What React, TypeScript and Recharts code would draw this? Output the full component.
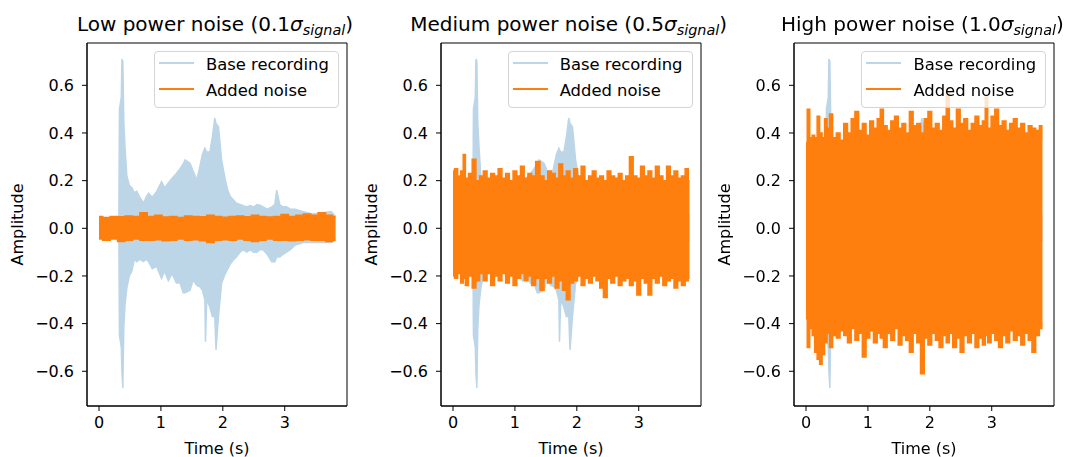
import { ComposedChart, Area, XAxis, YAxis, Legend, ReferenceArea } from 'recharts'

// base recording envelope (same clip in every panel)
const baseTimes = [0, 0.1, 0.2, 0.32, 0.33, 0.36, 0.37, 0.385, 0.4, 0.42, 0.45, 0.49, 0.53, 0.57, 0.61, 0.66, 0.72, 0.76, 0.8, 0.86, 0.93, 1.01, 1.06, 1.12, 1.18, 1.25, 1.31, 1.36, 1.39, 1.47, 1.52, 1.58, 1.63, 1.67, 1.71, 1.72, 1.74, 1.79, 1.83, 1.87, 1.89, 1.93, 1.98, 2.04, 2.08, 2.12, 2.17, 2.22, 2.28, 2.33, 2.39, 2.44, 2.5, 2.55, 2.6, 2.65, 2.72, 2.79, 2.84, 2.87, 2.92, 2.97, 3.03, 3.09, 3.17, 3.3, 3.45, 3.62, 3.75, 3.82]
const baseHigh = [0.02, 0.02, 0.02, 0.02, 0.5, 0.55, 0.71, 0.7, 0.45, 0.34, 0.22, 0.18, 0.17, 0.15, 0.155, 0.13, 0.106, 0.13, 0.147, 0.13, 0.154, 0.196, 0.17, 0.19, 0.21, 0.23, 0.25, 0.27, 0.287, 0.273, 0.24, 0.203, 0.26, 0.31, 0.336, 0.33, 0.32, 0.32, 0.38, 0.462, 0.44, 0.426, 0.287, 0.203, 0.16, 0.133, 0.12, 0.105, 0.1, 0.095, 0.09, 0.095, 0.09, 0.1, 0.097, 0.09, 0.08, 0.09, 0.1, 0.16, 0.1, 0.09, 0.09, 0.08, 0.08, 0.07, 0.06, 0.065, 0.07, 0.05]
const baseLow = [-0.02, -0.02, -0.02, -0.02, -0.45, -0.5, -0.6, -0.67, -0.42, -0.32, -0.25, -0.2, -0.18, -0.13, -0.14, -0.13, -0.14, -0.13, -0.14, -0.17, -0.16, -0.21, -0.18, -0.22, -0.19, -0.23, -0.23, -0.27, -0.27, -0.26, -0.217, -0.24, -0.245, -0.26, -0.3, -0.476, -0.3, -0.33, -0.37, -0.37, -0.51, -0.37, -0.23, -0.19, -0.17, -0.15, -0.133, -0.12, -0.1, -0.09, -0.1, -0.09, -0.1, -0.1, -0.09, -0.09, -0.11, -0.14, -0.14, -0.12, -0.12, -0.11, -0.1, -0.09, -0.07, -0.06, -0.06, -0.06, -0.06, -0.05]

// 0.1 sigma noise
const lowTimes = [0, 0.12, 0.24, 0.36, 0.48, 0.6, 0.72, 0.84, 0.96, 1.08, 1.2, 1.32, 1.44, 1.56, 1.68, 1.8, 1.92, 2.04, 2.16, 2.28, 2.4, 2.52, 2.64, 2.76, 2.88, 3.0, 3.12, 3.24, 3.36, 3.48, 3.6, 3.72, 3.82]
const lowHigh = [0.05, 0.045, 0.05, 0.048, 0.052, 0.05, 0.065, 0.05, 0.055, 0.047, 0.05, 0.045, 0.052, 0.05, 0.048, 0.055, 0.05, 0.046, 0.05, 0.052, 0.048, 0.055, 0.05, 0.047, 0.05, 0.058, 0.05, 0.055, 0.06, 0.055, 0.065, 0.055, 0.05]
const lowLow = [-0.045, -0.05, -0.045, -0.055, -0.05, -0.045, -0.05, -0.05, -0.048, -0.052, -0.05, -0.045, -0.05, -0.048, -0.052, -0.06, -0.05, -0.048, -0.05, -0.045, -0.05, -0.055, -0.05, -0.045, -0.05, -0.05, -0.052, -0.05, -0.048, -0.05, -0.05, -0.055, -0.05]

// 0.5 sigma noise
const midTimes = [0, 0.05, 0.1, 0.15, 0.18, 0.22, 0.28, 0.34, 0.4, 0.46, 0.52, 0.58, 0.64, 0.7, 0.76, 0.82, 0.88, 0.94, 1.0, 1.06, 1.12, 1.18, 1.24, 1.3, 1.37, 1.44, 1.5, 1.56, 1.62, 1.68, 1.74, 1.8, 1.86, 1.92, 1.98, 2.04, 2.1, 2.16, 2.22, 2.28, 2.34, 2.4, 2.46, 2.52, 2.58, 2.64, 2.7, 2.76, 2.82, 2.88, 2.94, 3.0, 3.06, 3.12, 3.18, 3.24, 3.3, 3.36, 3.42, 3.48, 3.54, 3.6, 3.66, 3.72, 3.78, 3.82]
const midHigh = [0.24, 0.25, 0.22, 0.24, 0.31, 0.21, 0.23, 0.29, 0.2, 0.22, 0.24, 0.21, 0.23, 0.22, 0.25, 0.21, 0.23, 0.2, 0.24, 0.22, 0.26, 0.21, 0.23, 0.22, 0.28, 0.22, 0.2, 0.24, 0.23, 0.21, 0.27, 0.22, 0.24, 0.21, 0.25, 0.22, 0.26, 0.2, 0.22, 0.24, 0.21, 0.22, 0.2, 0.24, 0.22, 0.21, 0.23, 0.2, 0.22, 0.3, 0.22, 0.21, 0.26, 0.22, 0.24, 0.21, 0.26, 0.22, 0.2, 0.26, 0.22, 0.24, 0.21, 0.22, 0.25, 0.2]
const midLow = [-0.2, -0.21, -0.19, -0.23, -0.21, -0.24, -0.2, -0.25, -0.22, -0.19, -0.22, -0.19, -0.24, -0.2, -0.22, -0.19, -0.23, -0.2, -0.24, -0.21, -0.19, -0.22, -0.2, -0.24, -0.21, -0.26, -0.21, -0.23, -0.2, -0.25, -0.22, -0.26, -0.3, -0.23, -0.22, -0.2, -0.24, -0.21, -0.23, -0.2, -0.22, -0.25, -0.29, -0.21, -0.23, -0.2, -0.24, -0.22, -0.21, -0.24, -0.22, -0.28, -0.21, -0.23, -0.28, -0.21, -0.23, -0.2, -0.24, -0.22, -0.21, -0.25, -0.22, -0.24, -0.22, -0.21]

// 1.0 sigma noise
const highTimes = [0, 0.04, 0.08, 0.12, 0.16, 0.2, 0.24, 0.28, 0.32, 0.36, 0.4, 0.46, 0.52, 0.58, 0.64, 0.7, 0.76, 0.82, 0.88, 0.94, 1.0, 1.06, 1.12, 1.18, 1.22, 1.28, 1.34, 1.4, 1.46, 1.52, 1.58, 1.64, 1.7, 1.76, 1.82, 1.88, 1.94, 2.0, 2.06, 2.12, 2.18, 2.24, 2.29, 2.34, 2.4, 2.46, 2.52, 2.58, 2.64, 2.7, 2.76, 2.82, 2.88, 2.91, 2.96, 3.02, 3.08, 3.14, 3.2, 3.26, 3.32, 3.38, 3.44, 3.5, 3.56, 3.62, 3.68, 3.74, 3.8, 3.82]
const highHigh = [0.36, 0.5, 0.38, 0.39, 0.38, 0.47, 0.4, 0.38, 0.46, 0.42, 0.48, 0.38, 0.4, 0.37, 0.44, 0.4, 0.46, 0.49, 0.41, 0.44, 0.39, 0.45, 0.42, 0.46, 0.5, 0.43, 0.41, 0.45, 0.47, 0.42, 0.44, 0.4, 0.49, 0.43, 0.44, 0.4, 0.46, 0.49, 0.42, 0.44, 0.41, 0.47, 0.57, 0.45, 0.42, 0.5, 0.44, 0.46, 0.41, 0.44, 0.47, 0.43, 0.45, 0.55, 0.42, 0.47, 0.5, 0.43, 0.45, 0.41, 0.44, 0.46, 0.42, 0.44, 0.4, 0.43, 0.42, 0.41, 0.43, 0.38]
const highLow = [-0.38, -0.5, -0.42, -0.45, -0.52, -0.55, -0.57, -0.53, -0.48, -0.44, -0.5, -0.45, -0.46, -0.43, -0.45, -0.48, -0.42, -0.47, -0.44, -0.54, -0.46, -0.43, -0.48, -0.44, -0.46, -0.5, -0.44, -0.47, -0.42, -0.49, -0.45, -0.47, -0.52, -0.44, -0.48, -0.61, -0.46, -0.49, -0.44, -0.47, -0.5, -0.45, -0.48, -0.44, -0.5, -0.46, -0.52, -0.45, -0.48, -0.44, -0.5, -0.46, -0.49, -0.45, -0.48, -0.44, -0.47, -0.5, -0.45, -0.48, -0.43, -0.47, -0.45, -0.49, -0.44, -0.47, -0.52, -0.45, -0.42, -0.4]

const xTicks = [0, 1, 2, 3]
const yTicks = [-0.6, -0.4, -0.2, 0, 0.2, 0.4, 0.6]

const X_DOMAIN: [number, number] = [-0.194, 4.006]
const Y_DOMAIN: [number, number] = [-0.7457, 0.7776]

const BASE_COLOR = '#bcd6e8'
const NOISE_COLOR = '#ff7f0e'
const FONT = '"DejaVu Sans", sans-serif'

type Row = { t: number; range: [number, number] }

function toRows(times: number[], low: number[], high: number[]): Row[] {
  return times.map((t, i) => ({ t, range: [low[i], high[i]] }))
}

const baseRows = toRows(baseTimes, baseLow, baseHigh)

const panels = [
  { level: '0.1', name: 'Low', noise: toRows(lowTimes, lowLow, lowHigh) },
  { level: '0.5', name: 'Medium', noise: toRows(midTimes, midLow, midHigh) },
  { level: '1.0', name: 'High', noise: toRows(highTimes, highLow, highHigh) },
]

function NoiseLegend() {
  const row = (lineY: number, color: string, text: string) => (
    <>
      <svg style={{ position: 'absolute', left: 4, top: lineY - 2 }} width={36} height={4}>
        <line x1={0} y1={2} x2={35} y2={2} stroke={color} strokeWidth={2} />
      </svg>
      <div style={{ position: 'absolute', left: 51, top: lineY - 7.5, lineHeight: '18px', whiteSpace: 'nowrap' }}>
        {text}
      </div>
    </>
  )
  return (
    <div
      style={{
        position: 'relative',
        width: 185,
        height: 57,
        boxSizing: 'border-box',
        border: '1px solid #d4d4d4',
        borderRadius: 4,
        background: 'rgba(255,255,255,0.8)',
        fontSize: 16.4,
        color: '#000',
        fontFamily: FONT,
      }}
    >
      {row(11.6, BASE_COLOR, 'Base recording')}
      {row(37.6, NOISE_COLOR, 'Added noise')}
    </div>
  )
}

const tickStyle = { fontSize: 16, fill: '#000', fontFamily: FONT }
const labelStyle = { fontSize: 16, fill: '#000', fontFamily: FONT }
const axisStroke = { stroke: '#000', strokeWidth: 1 }

function Panel({ left, level, name, noise }: { left: number; level: string; name: string; noise: Row[] }) {
  return (
    <div style={{ position: 'absolute', left, top: 0, width: 355, height: 457 }}>
      <div
        style={{
          position: 'absolute',
          left: 87 + 128 - 200,
          top: 12,
          width: 400,
          textAlign: 'center',
          fontSize: 20,
          lineHeight: '24px',
          color: '#000',
          whiteSpace: 'nowrap',
        }}
      >
        {name} power noise ({level}
        <i>σ</i>
        <sub style={{ fontSize: '0.72em', fontStyle: 'italic', verticalAlign: '-0.3em' }}>signal</sub>)
      </div>
      <ComposedChart width={355} height={457} margin={{ top: 43, right: 8, bottom: 0, left: 0 }}>
        <XAxis
          dataKey="t"
          type="number"
          domain={X_DOMAIN}
          ticks={xTicks}
          allowDataOverflow
          height={51}
          tick={tickStyle}
          tickSize={5}
          tickMargin={6}
          tickLine={axisStroke}
          axisLine={axisStroke}
          label={{ value: 'Time (s)', position: 'insideBottom', offset: 3, style: labelStyle }}
        />
        <YAxis
          type="number"
          domain={Y_DOMAIN}
          ticks={yTicks}
          allowDataOverflow
          width={87}
          tick={tickStyle}
          tickSize={5}
          tickMargin={8}
          tickLine={axisStroke}
          axisLine={axisStroke}
          tickFormatter={(v: number) => (v < 0 ? '\u2212' + Math.abs(v).toFixed(1) : v.toFixed(1))}
          label={{ value: 'Amplitude', angle: -90, position: 'insideLeft', offset: 17, style: { ...labelStyle, textAnchor: 'middle' } }}
        />
        <Area
          data={baseRows}
          dataKey="range"
          type="linear"
          stroke={BASE_COLOR}
          strokeWidth={1.5}
          fill={BASE_COLOR}
          fillOpacity={1}
          dot={false}
          activeDot={false}
          isAnimationActive={false}
        />
        <Area
          data={noise}
          dataKey="range"
          type="step"
          stroke={NOISE_COLOR}
          strokeWidth={1.5}
          fill={NOISE_COLOR}
          fillOpacity={1}
          dot={false}
          activeDot={false}
          isAnimationActive={false}
        />
        <ReferenceArea
          x1={X_DOMAIN[0]}
          x2={X_DOMAIN[1]}
          y1={Y_DOMAIN[0]}
          y2={Y_DOMAIN[1]}
          ifOverflow="visible"
          fill="none"
          fillOpacity={0}
          stroke="#000"
          strokeWidth={1}
          strokeOpacity={1}
        />
        <Legend
          layout="vertical"
          align="center"
          verticalAlign="middle"
          content={<NoiseLegend />}
          wrapperStyle={{ left: 154, top: 50.7, width: 185, height: 57 }}
        />
      </ComposedChart>
    </div>
  )
}

export default function App() {
  return (
    <div style={{ position: 'fixed', left: 0, top: 0, width: 1065, height: 457, background: '#fff', fontFamily: FONT }}>
      {panels.map((p, i) => (
        <Panel key={p.name} left={i * 353.7} level={p.level} name={p.name} noise={p.noise} />
      ))}
    </div>
  )
}
